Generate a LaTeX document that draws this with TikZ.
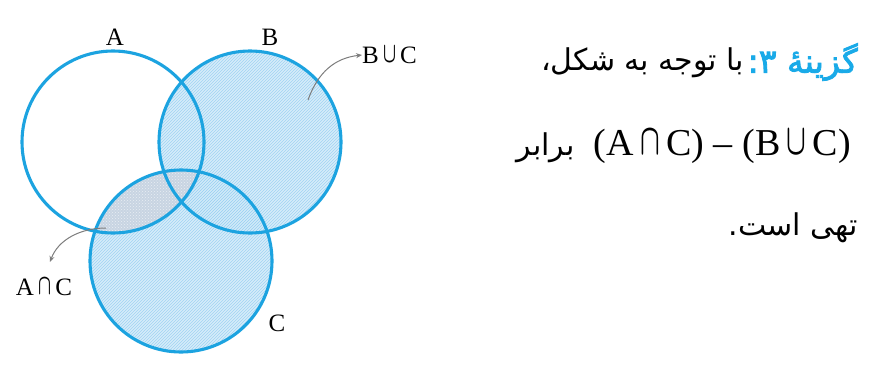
\documentclass[tikz,border=0pt]{standalone}
\usepackage{fontspec}
\usepackage{graphicx}
\setmainfont{Liberation Serif}
\newfontfamily\fa[Script=Arabic]{DejaVu Sans}
\newfontfamily\fabold[Script=Arabic,FakeBold=2.5]{DejaVu Sans}
\TeXXeTstate=1
\usetikzlibrary{patterns,arrows.meta}
\definecolor{lineblue}{RGB}{28,163,224}
\definecolor{fillblue}{RGB}{214,237,250}
\definecolor{hatchblue}{RGB}{160,211,242}
\definecolor{grayfill}{RGB}{200,212,226}
\definecolor{graypat}{RGB}{232,238,244}
\definecolor{arrowgray}{RGB}{125,125,125}
\definecolor{titleblue}{RGB}{25,170,232}
\newcommand{\mycap}{\raisebox{0.02em}{\resizebox{0.52em}{0.64em}{\boldmath$\cap$}}}
\newcommand{\mycup}{\raisebox{0.02em}{\resizebox{0.52em}{0.64em}{\boldmath$\cup$}}}
\tikzset{
  setcircle/.style={draw=lineblue, line width=3.1pt},
  setlabel/.style={font=\fontsize{25}{28}\selectfont, inner sep=0pt},
  pointer/.style={draw=arrowgray, line width=1pt, -{Stealth[length=6pt,width=5pt]}},
  fatext/.style={font=\fa\fontsize{30}{34}\selectfont, inner sep=0pt, anchor=east},
  fatitle/.style={font=\fabold\fontsize{33}{36}\selectfont, text=titleblue, inner sep=0pt, anchor=east},
}
\begin{document}
\begin{tikzpicture}[x=1pt,y=-1pt]
\useasboundingbox (0,0) rectangle (873,370);
\coordinate (cA) at (113,142);
\coordinate (cB) at (250,142);
\coordinate (cC) at (181,261);
% B union C
\fill[fillblue] (cB) circle[radius=91pt] (cC) circle[radius=91pt];
\pattern[pattern=north east lines, pattern color=hatchblue] (cB) circle[radius=91pt];
\pattern[pattern=north east lines, pattern color=hatchblue] (cC) circle[radius=91pt];
% A cap C
\begin{scope}
  \clip (cA) circle[radius=91pt];
  \fill[grayfill] (cC) circle[radius=91pt];
  \pattern[pattern=crosshatch dots, pattern color=graypat] (cC) circle[radius=91pt];
\end{scope}
% circles
\draw[setcircle] (cA) circle[radius=91pt];
\draw[setcircle] (cB) circle[radius=91pt];
\draw[setcircle] (cC) circle[radius=91pt];
% labels
\node[setlabel] (lA) at (115,37) {A};
\node[setlabel] (lB) at (270,37) {B};
\node[setlabel] (lC) at (277,323) {C};
\node[setlabel, anchor=west] (lBC) at (362,55) {B\,\mycup\,C};
\node[setlabel] (lAC) at (44,287) {A\,\mycap\,C};
% pointers
\coordinate (pB) at (308,100);
\coordinate (pAC) at (106,228);
\draw[pointer] (pB) .. controls (318,72) and (335,58) .. (lBC.west);
\draw[pointer] (pAC) .. controls (80,228) and (58,240) .. (50,262);
% right text
\node[fatitle] (t0) at (858,62) {\beginR گزینهٔ ۳:\endR};
\node[fatext] (t1) at ([xshift=-3pt,yshift=-1pt]t0.west) {\beginR با توجه به شکل،\endR};
\node[fatext] (t2) at (851,146) {\beginR\beginL{\fontsize{38}{42}\selectfont\rmfamily (A\,\mycap\,C) – (B\,\mycup\,C)}\endL\ \ برابر\endR};
\node[fatext] (t3) at (858,228) {\beginR تهی است.\endR};
\end{tikzpicture}
\end{document}
